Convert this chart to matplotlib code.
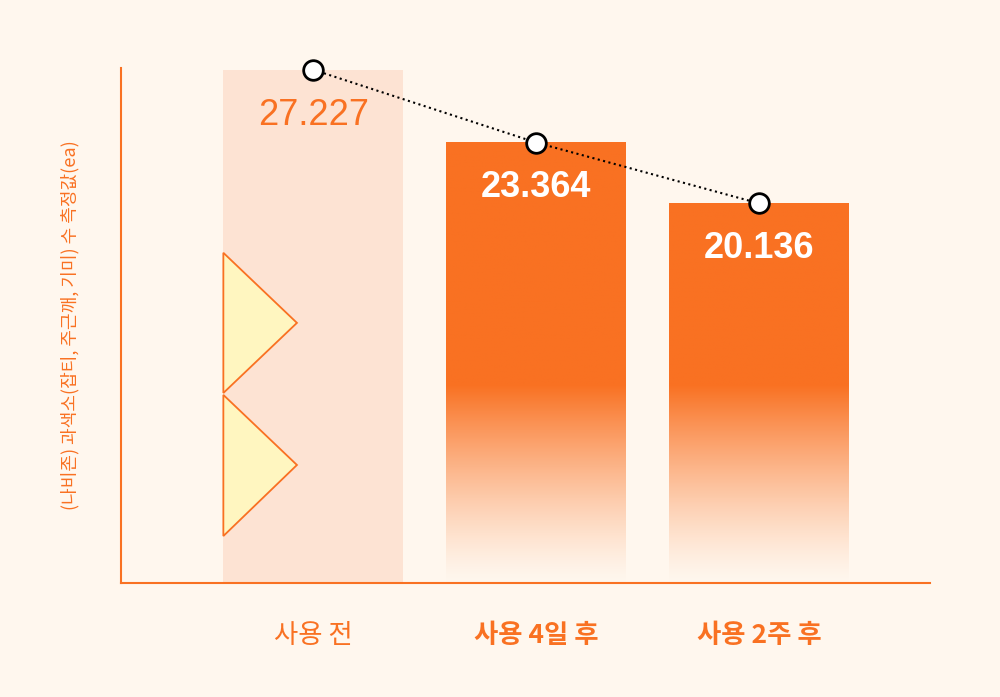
import matplotlib.pyplot as plt
import numpy as np
from matplotlib.colors import to_rgb
from matplotlib.patches import Polygon

plt.rcParams['font.family'] = ['Noto Sans CJK KR', 'DejaVu Sans']

categories = ["사용 전", "사용 4일 후", "사용 2주 후"]
values = [27.227, 23.364, 20.136]
value_labels = ["27.227", "23.364", "20.136"]

bg = "#FFF7EE"
orange = "#F97122"
light = "#FDE3D3"

fig = plt.figure(figsize=(10, 6.97), dpi=100, facecolor=bg)
ax = fig.add_axes([0.121, 0.1636, 0.809, 0.739], facecolor=bg)
x = np.arange(len(values))
w = 0.807

# first bar: flat light fill
ax.bar(x[0], values[0], width=w, color=light, zorder=1)

# other bars: gradient fading to background at bottom
oc = np.array(to_rgb(orange))
bc = np.array(to_rgb(bg))
for i in (1, 2):
    n = 300
    t = np.linspace(0, 1, n)[:, None]  # 0 at top, 1 at bottom
    h = values[i]
    fade_start = (h - 10.5) / h
    a = np.clip((1 - t) / (1 - fade_start), 0, 1) ** 1.3
    col = oc * a + bc * (1 - a)
    img = np.repeat(col[:, None, :], 2, axis=1)
    ax.imshow(img, extent=[x[i] - w / 2, x[i] + w / 2, 0, h], aspect='auto', zorder=1)

# triangles decoration
tri_kw = dict(facecolor="#FFF6C0", edgecolor=orange, lw=1.3, zorder=2)
x0, x1 = -0.404, -0.074
ax.add_patch(Polygon([[x0, 17.52], [x1, 13.8], [x0, 10.08]], **tri_kw))
ax.add_patch(Polygon([[x0, 9.98], [x1, 6.26], [x0, 2.49]], **tri_kw))

# trend line with markers
ax.plot(x, values, ls=":", color="black", lw=1.5, zorder=3, clip_on=False)
ax.scatter(x, values, s=200, facecolor="white", edgecolor="black", lw=2, zorder=4, clip_on=False)

# value labels
ax.text(x[0], values[0] - 2.4, value_labels[0], ha="center", va="center",
        fontsize=26, color=orange, family=['Liberation Sans', 'DejaVu Sans'])
for i in (1, 2):
    ax.text(x[i], values[i] - 2.4, value_labels[i], ha="center", va="center",
            fontsize=26, color="white", fontweight="bold", family=['Liberation Sans', 'DejaVu Sans'])

ax.set_xlim(-0.863, 2.765)
ax.set_ylim(0, 27.33)
for s in ("top", "right"):
    ax.spines[s].set_visible(False)
for s in ("left", "bottom"):
    ax.spines[s].set_color(orange)
    ax.spines[s].set_linewidth(1.5)
ax.set_yticks([])
ax.set_xticks(x)
ax.set_xticklabels(categories, fontsize=19, color=orange)
for lbl, wt in zip(ax.get_xticklabels(), ["normal", "bold", "bold"]):
    lbl.set_fontweight(wt)
ax.tick_params(axis="x", length=0, pad=28)
ax.set_ylabel("(나비존) 과색소(잡티, 주근깨, 기미) 수 측정값(ea)", color=orange, fontsize=13, labelpad=30)

fig.savefig("out.png", dpi=100, facecolor=bg)
